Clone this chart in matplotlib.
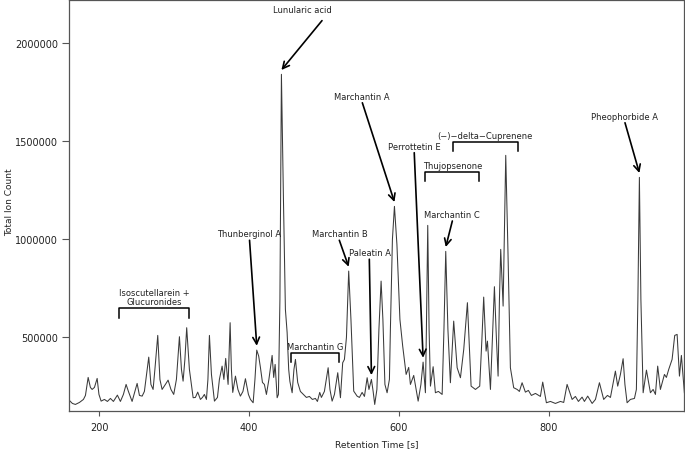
import numpy as np
import matplotlib
matplotlib.use('Agg')
import matplotlib.pyplot as plt

# chromatogram trace
rt = [160.5, 164.5, 168.5, 173.9, 179.2, 181.9, 185.5, 188.5, 190.8, 193.9,
      197.5, 199.9, 202.8, 207.2, 211.2, 215.2, 219.2, 224.5, 228.5, 232.5,
      236.1, 239.2, 244.1, 250.8, 253.9, 257.5, 260.5, 266.3, 269.2, 272.1,
      274.5, 278.3, 281.2, 284.1, 288.5, 292.1, 295.9, 299.6, 303.2, 307.2,
      309.9, 312.1, 314.5, 316.9, 320.5, 325.5, 328.5, 331.6, 335.2, 337.9,
      340.5, 343.2, 345.2, 347.2, 349.9, 353.9, 357.9, 360.5, 364.1, 366.5,
      368.9, 372.1, 374.8, 376.5, 378.3, 381.9, 385.2, 388.5, 391.9, 395.2,
      399.2, 401.9, 405.5, 407.9, 410.3, 412.9, 415.2, 417.9, 420.5, 423.2,
      426.5, 430.8, 432.9, 434.8, 437.5, 439.2, 441.2, 443.2, 445.9, 448.5,
      450.8, 452.9, 454.5, 457.5, 459.9, 461.9, 464.9, 468.5, 472.5, 476.5,
      480.5, 484.5, 488.5, 491.2, 494.3, 496.5, 500.5, 505.5, 507.9, 510.8,
      513.9, 518.3, 521.9, 524.9, 527.2, 529.9, 532.9, 535.9, 539.6, 544.1,
      547.2, 550.8, 553.9, 557.5, 559.9, 563.2, 565.5, 567.6, 570.5, 573.2,
      576.1, 578.5, 581.2, 584.1, 587.2, 588.5, 591.2, 593.9, 597.2, 601.2,
      604.9, 609.5, 612.9, 615.2, 619.6, 625.5, 629.2, 632.1, 635.2, 636.5,
      638.3, 640.1, 641.9, 645.5, 648.5, 652.5, 657.5, 659.9, 662.3, 665.2,
      668.5, 672.9, 677.5, 681.9, 686.3, 691.2, 696.1, 701.9, 707.6, 710.5,
      712.9, 716.1, 717.9, 721.9, 724.5, 727.2, 729.9, 732.1, 733.9, 735.6,
      738.8, 742.3, 745.2, 748.5, 752.9, 757.5, 760.5, 764.1, 768.5, 772.5,
      776.5, 781.9, 788.5, 791.6, 796.5, 801.9, 808.5, 815.2, 819.6, 824.1,
      830.8, 835.2, 839.2, 844.1, 847.2, 851.6, 857.5, 861.9, 867.2, 872.9,
      877.9, 881.9, 885.2, 888.5, 891.6, 895.2, 898.8, 901.2, 904.1, 908.5,
      913.9, 916.5, 918.5, 920.5, 922.5, 925.5, 929.9, 935.2, 938.8, 941.9,
      944.9, 948.5, 953.9, 956.5, 959.6, 964.1, 967.6, 970.8, 973.9, 976.5,
      980.5]
tic = [179000, 163700, 158600, 168800, 184100, 204500, 296200, 245300, 235000, 245300,
       291100, 209600, 175500, 184100, 173900, 189200, 173900, 206000, 173900, 209600,
       260500, 224900, 173900, 265600, 204500, 201000, 224900, 399600, 260500, 235000,
       337000, 510200, 286000, 235000, 260500, 282400, 235000, 209600, 286000, 503600,
       337000, 277300, 387900, 549400, 337000, 192800, 194300, 221300, 184100, 194300,
       209600, 184100, 286000, 510200, 311500, 175500, 194300, 286000, 353800, 286000,
       393000, 260500, 574900, 337000, 219800, 302800, 235000, 201000, 224900, 289600,
       209600, 184100, 167300, 286000, 435300, 404700, 347200, 270700, 260500, 209600,
       286000, 408300, 296200, 362400, 192800, 209600, 693600, 1840000, 1203100, 642700,
       525500, 337000, 275800, 218200, 337000, 387900, 270700, 224900, 209600, 194300,
       199400, 184100, 189200, 173900, 219800, 194300, 224900, 345600, 235000, 175500,
       209600, 320100, 192800, 371100, 387900, 500000, 837800, 591700, 226400, 201000,
       194300, 219800, 199400, 294700, 235000, 286000, 224900, 158600, 235000, 540800,
       786800, 591700, 260500, 218200, 286000, 540800, 999300, 1167400, 973800, 591700,
       455700, 311500, 347200, 260500, 306400, 175500, 260500, 374200, 218200, 540800,
       1070600, 540800, 251900, 350700, 218200, 224900, 209600, 540800, 938200, 540800,
       269200, 583000, 345600, 294700, 438900, 676800, 251900, 235000, 251900, 489800,
       705300, 430200, 481100, 235000, 489800, 758300, 489800, 302800, 693600, 948400,
       659500, 1427300, 948400, 345600, 243700, 235000, 224900, 269200, 221300, 230000,
       204500, 214700, 199400, 272300, 167300, 173900, 163700, 173900, 168800, 260500,
       184100, 199400, 173900, 195800, 173900, 201000, 163700, 184100, 269200, 184100,
       204500, 194300, 260500, 328300, 251900, 311500, 391500, 260500, 167300, 184100,
       189200, 235000, 693600, 1315200, 693600, 218200, 333400, 218200, 235000, 209600,
       353800, 235000, 311500, 296200, 337000, 387900, 510200, 515300, 302800, 408300,
       218200]

# single labelled peaks and the retention time each arrow points at
peak_names = ['Lunularic acid', 'Thunberginol A', 'Marchantin B', 'Paleatin A',
              'Marchantin A', 'Perrottetin E', 'Marchantin C', 'Pheophorbide A']
peak_rt = [443.2, 410.3, 532.9, 563.2, 593.9, 632.1, 662.3, 920.5]

# labelled groups of peaks (bracketed rt ranges)
group_names = ['Isoscutellarein +\nGlucuronides', 'Marchantin G',
               'Thujopsenone', '(\u2212)\u2212delta\u2212Cuprenene']
group_start = [226.3, 456.0, 635.1, 671.6]
group_end = [320.4, 520.4, 707.1, 758.3]

ink = '#222222'
frame = '#555555'

fig = plt.figure(figsize=(6.85, 4.52), dpi=100)
ax = fig.add_axes([0.1012, 0.0885, 0.8978, 0.91])

ax.plot(rt, tic, color='#3a3a3a', lw=0.75)

# label text centre and arrow start for each single peak (layout only)
peak_text = [(470.7, 2169400), (400.4, 1030400), (520.5, 1030400), (560.7, 933800),
             (550.3, 1725500), (620.3, 1474300), (670.3, 1127000), (900.0, 1626800)]
arrow_from = [(497.3, 2113500), (400.7, 994800), (520.4, 994800), (560.4, 898200),
              (551.1, 1695000), (620.3, 1440700), (671.1, 1093000), (901.3, 1593300)]
for name, prt, (tx, ty), (ax0, ay0) in zip(peak_names, peak_rt, peak_text, arrow_from):
    tip = np.interp(prt, rt, tic) + 22000
    ax.text(tx, ty, name, ha='center', va='center', fontsize=6, color=ink)
    ax.annotate('', xy=(prt, tip), xytext=(ax0, ay0),
                arrowprops=dict(arrowstyle='->', color='black', lw=1.2,
                                shrinkA=0, shrinkB=0, mutation_scale=12))

# brackets: top level, tick bottom, text centre y
group_levels = [(647500, 596600, 703400), (418600, 372900, 452200),
                (1344100, 1296300, 1376100), (1494600, 1448900, 1528700)]
for name, g0, g1, (top, low, ty) in zip(group_names, group_start, group_end, group_levels):
    ax.plot([g0, g0, g1, g1], [low, top, top, low], color='black', lw=1.1)
    ax.text((g0 + g1) / 2, ty, name, ha='center', va='center', fontsize=6,
            color=ink, linespacing=1.0)

ax.set_xlim(160.4, 980.4)
ax.set_ylim(125200, 2220200)
ax.set_xticks([200, 400, 600, 800])
ax.set_yticks([500000, 1000000, 1500000, 2000000])
ax.set_yticklabels(['500000', '1000000', '1500000', '2000000'])
ax.tick_params(axis='x', length=3.6, width=0.8, color=frame, labelsize=7,
               labelcolor=ink, pad=4)
ax.tick_params(axis='y', length=5, width=0.8, color=frame, labelsize=7,
               labelcolor=ink, pad=3)
for sp in ax.spines.values():
    sp.set_color(frame)
    sp.set_linewidth(0.9)

ax.set_xlabel('Retention Time [s]', fontsize=6.5, color=ink)
ax.set_ylabel('Total Ion Count', fontsize=6.5, color=ink)
ax.xaxis.set_label_coords(0.5, -0.068)
ax.yaxis.set_label_coords(-0.09, 0.51)

fig.savefig('out.png', dpi=100)
